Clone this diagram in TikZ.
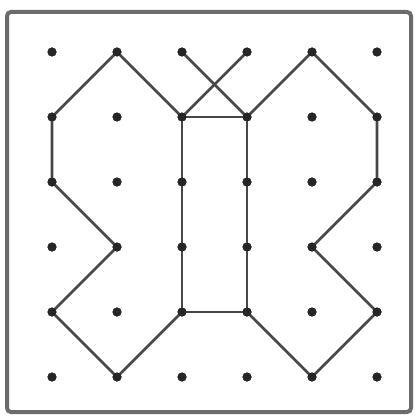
\documentclass[tikz,border=0pt]{standalone}
\begin{document}
\begin{tikzpicture}[x=1pt,y=-1pt,
  dotmark/.style={circle,fill=black!85,inner sep=0pt,minimum size=9pt},
  band/.style={draw=black!72,line width=2.8pt,line join=round}]
\useasboundingbox (0,0) rectangle (417,417);
\draw[line width=4pt,draw=black!58,rounded corners=4pt] (7,12) rectangle (411,412);
\foreach \i in {0,...,5}{
  \foreach \j in {0,...,5}{
    \node[dotmark] (d\i\j) at ({52+65*\i},{52+65*\j}) {};
  }
}
% left wing
\draw[band] (d10.center) -- (d01.center) -- (d02.center) -- (d13.center) -- (d04.center) -- (d15.center) -- (d24.center);
\draw[band] (d10.center) -- (d21.center);
% right wing
\draw[band] (d40.center) -- (d51.center) -- (d52.center) -- (d43.center) -- (d54.center) -- (d45.center) -- (d34.center);
\draw[band] (d40.center) -- (d31.center);
% cross
\draw[band] (d20.center) -- (d31.center);
\draw[band] (d30.center) -- (d21.center);
% body
\draw[band] (d21.center) -- (d31.center) -- (d34.center) -- (d24.center) -- cycle;
% redraw dots on top
\foreach \i in {0,...,5}{
  \foreach \j in {0,...,5}{
    \fill[black!85] (d\i\j) circle (4.5pt);
  }
}
\end{tikzpicture}
\end{document}
